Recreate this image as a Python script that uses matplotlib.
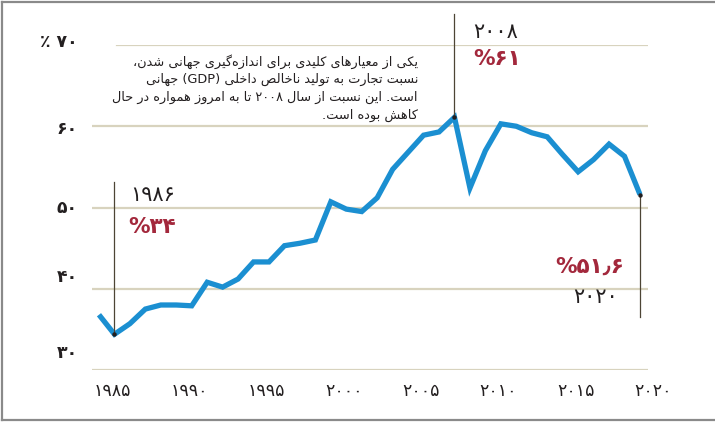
import matplotlib
matplotlib.use('Agg')
import matplotlib.pyplot as plt
from matplotlib.transforms import ScaledTranslation

# trade as share of world GDP
years = list(range(1985, 2021))
trade_gdp = [36.8, 34.4, 35.7, 37.5, 38.0, 38.0, 37.9, 40.8, 40.2, 41.2,
             43.3, 43.3, 45.3, 45.6, 46.0, 50.7, 49.8, 49.5, 51.2, 54.7,
             56.8, 58.9, 59.3, 61.1, 52.4, 57.0, 60.3, 60.0, 59.2, 58.7,
             56.5, 54.4, 55.9, 57.8, 56.3, 51.6]

ytick_vals = [30, 40, 50, 60, 70]
ytick_labels = ['۳۰', '۴۰', '۵۰', '۶۰', '٪ ۷۰']
xtick_vals = [1985, 1990, 1995, 2000, 2005, 2010, 2015, 2020]
xtick_labels = ['۱۹۸۵', '۱۹۹۰', '۱۹۹۵', '۲۰۰۰', '۲۰۰۵', '۲۰۱۰', '۲۰۱۵', '۲۰۲۰']

note_lines = [
    'یکی از معیارهای کلیدی برای اندازه\u200cگیری جهانی شدن،',
    'نسبت تجارت به تولید ناخالص داخلی (GDP) جهانی',
    'است. این نسبت از سال ۲۰۰۸ تا به امروز همواره در حال',
    'کاهش بوده است.',
]

# letter -> (first presentation form, number of forms)
FORMS = {
    'ا': (0xFE8D, 2), 'آ': (0xFE81, 2), 'ب': (0xFE8F, 4), 'پ': (0xFB56, 4),
    'ت': (0xFE95, 4), 'ث': (0xFE99, 4), 'ج': (0xFE9D, 4), 'چ': (0xFB7A, 4),
    'ح': (0xFEA1, 4), 'خ': (0xFEA5, 4), 'د': (0xFEA9, 2), 'ذ': (0xFEAB, 2),
    'ر': (0xFEAD, 2), 'ز': (0xFEAF, 2), 'ژ': (0xFB8A, 2), 'س': (0xFEB1, 4),
    'ش': (0xFEB5, 4), 'ص': (0xFEB9, 4), 'ض': (0xFEBD, 4), 'ط': (0xFEC1, 4),
    'ظ': (0xFEC5, 4), 'ع': (0xFEC9, 4), 'غ': (0xFECD, 4), 'ف': (0xFED1, 4),
    'ق': (0xFED5, 4), 'ک': (0xFB8E, 4), 'ك': (0xFED9, 4), 'گ': (0xFB92, 4),
    'ل': (0xFEDD, 4), 'م': (0xFEE1, 4), 'ن': (0xFEE5, 4), 'و': (0xFEED, 2),
    'ه': (0xFEE9, 4), 'ی': (0xFBFC, 4), 'ي': (0xFEF1, 4),
}
MIRROR = {'(': ')', ')': '('}


def shape(s):
    out = []
    for i, ch in enumerate(s):
        if ch == '\u200c':
            continue
        if ch not in FORMS:
            out.append(ch)
            continue
        base, n = FORMS[ch]
        prev = s[i - 1] if i > 0 else ''
        nxt = s[i + 1] if i + 1 < len(s) else ''
        join_prev = prev in FORMS and FORMS[prev][1] == 4
        join_next = n == 4 and nxt in FORMS
        if join_prev and join_next:
            k = 3
        elif join_next:
            k = 2
        elif join_prev:
            k = 1
        else:
            k = 0
        out.append(chr(base + k))
    return out


def fa(s):
    # shape then lay out right to left, keeping latin / digit runs as they are
    parts, run = [], ''
    for ch in shape(s):
        if (ch.isascii() and ch.isalnum()) or '۰' <= ch <= '۹':
            run += ch
        else:
            if run:
                parts.append(run)
                run = ''
            parts.append(MIRROR.get(ch, ch))
    if run:
        parts.append(run)
    return ''.join(reversed(parts))


plt.rcParams['font.family'] = ['DejaVu Sans']

fig = plt.figure(figsize=(7.15, 4.23), dpi=100)
ax = fig.add_axes([0.1287, 0.1253, 0.7776, 0.7683])
ax.set_xlim(1984.55, 2020.52)
ax.set_ylim(30, 70)
ax.axis('off')

grid_c = '#d8d3be'
for v in ytick_vals:
    ax.axhline(v, xmin=0.045 if v == 70 else 0, color=grid_c, lw=1.6, zorder=1)

def px(dx, dy):
    return ScaledTranslation(dx / 100, dy / 100, fig.dpi_scale_trans)

ynudge = [17, 12, 0, -3, 3]
for v, lab, dy in zip(ytick_vals, ytick_labels, ynudge):
    ax.text(0, v, lab, transform=ax.get_yaxis_transform() + px(-14, dy),
            ha='right', va='center', fontsize=12.5, fontweight='bold', color='#231f20')
for v, lab in zip(xtick_vals, xtick_labels):
    ax.text(v, 0, lab, transform=ax.get_xaxis_transform() + px(13, -21),
            ha='center', va='center', fontsize=12.5, color='#231f20')

ax.plot(years, trade_gdp, color='#1b8fd1', lw=3.8, zorder=3,
        solid_joinstyle='miter', solid_capstyle='butt')

# callouts
line_c = '#4d4535'
red = '#a3283c'
v86 = trade_gdp[years.index(1986)]
v08 = trade_gdp[years.index(2008)]
v20 = trade_gdp[years.index(2020)]
ax.plot([1986, 1986], [v86, 53.1], color=line_c, lw=0.9, zorder=4)
ax.plot([2008, 2008], [v08, 73.8], color=line_c, lw=0.9, zorder=4, clip_on=False)
ax.plot([2020, 2020], [v20, 36.5], color=line_c, lw=0.9, zorder=4)
ax.plot([1986, 2008, 2020], [v86, v08, v20], 'o', ms=2.2, color='#231f20', zorder=5)

ax.text(1987.0, 51.6, '۱۹۸۶', fontsize=15, color='#231f20', va='center', ha='left')
ax.text(1986.9, 47.6, '%۳۴', fontsize=15.5, fontweight='bold', color=red,
        va='center', ha='left')
ax.text(2009.2, 71.6, '۲۰۰۸', fontsize=15, color='#231f20', va='center', ha='left',
        clip_on=False)
ax.text(2009.2, 68.3, '%۶۱', fontsize=15.5, fontweight='bold', color=red,
        va='center', ha='left')
ax.text(2019.0, 42.7, '%۵۱٫۶', fontsize=15.5, fontweight='bold', color=red,
        va='center', ha='right')
ax.text(2017.1, 39.0, '۲۰۲۰', fontsize=15, color='#231f20', va='center', ha='center')

# explanatory note, right aligned
ax.text(418 / 715, 1 - 54 / 423, '\n'.join(fa(t) for t in note_lines),
        transform=fig.transFigure, ha='right', va='top', ma='right',
        fontsize=9.3, color='#231f20', linespacing=1.45)

# thin grey frame (open on the right, as in the source)
fig.add_artist(plt.Line2D([2 / 715, 2 / 715], [3 / 423, 421 / 423], color='#8a8a8a', lw=1.6))
fig.add_artist(plt.Line2D([2 / 715, 1], [421 / 423, 421 / 423], color='#8a8a8a', lw=1.6))
fig.add_artist(plt.Line2D([2 / 715, 1], [3 / 423, 3 / 423], color='#8a8a8a', lw=1.6))

fig.savefig('out.png', dpi=100)
